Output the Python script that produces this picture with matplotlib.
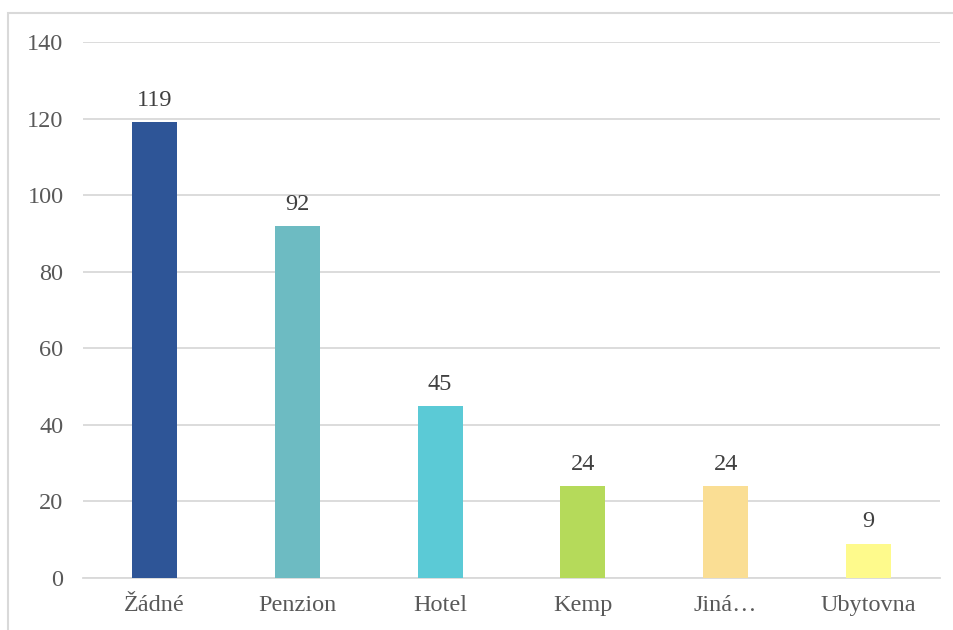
import matplotlib.pyplot as plt
from matplotlib.patches import Rectangle

categories = ['Žádné', 'Penzion', 'Hotel', 'Kemp', 'Jiná…', 'Ubytovna']
values = [119, 92, 45, 24, 24, 9]
colors = ['#2E5597', '#6DBBC2', '#5BCAD6', '#B5DA5A', '#FADE94', '#FEFA8C']
yticks = [0, 20, 40, 60, 80, 100, 120, 140]

plt.rcParams['font.family'] = ['Liberation Serif', 'DejaVu Serif']

fig = plt.figure(figsize=(9.54, 6.3), dpi=100)
ax = fig.add_axes([83 / 954, 1 - 578 / 630, (940 - 83) / 954, (578 - 42) / 630])

x = range(len(categories))
bars = ax.bar(x, values, width=0.315, color=colors, zorder=3)
ax.bar_label(bars, padding=8, fontsize=17.5, color='#404040')

ax.set_xlim(-0.5, len(categories) - 0.5)
ax.set_ylim(0, 140)
ax.set_yticks(yticks)
ax.set_xticks(list(x))
ax.set_xticklabels(categories)
ax.tick_params(axis='both', length=0, labelsize=17.5, labelcolor='#595959')
ax.tick_params(axis='y', pad=14)
ax.tick_params(axis='x', pad=12)

ax.grid(axis='y', color='#d9d9d9', linewidth=1.3, zorder=0)
for s in ['top', 'right', 'left']:
    ax.spines[s].set_visible(False)
ax.spines['bottom'].set_color('#d9d9d9')
ax.spines['bottom'].set_linewidth(1.3)

# outer chart frame (partly cut off at right and bottom)
frame = Rectangle((8 / 954, -0.1), 1.2, 1 - 13 / 630 + 0.1, transform=fig.transFigure,
                  fill=False, edgecolor='#d9d9d9', linewidth=1.5, clip_on=False)
fig.patches.append(frame)

fig.savefig('out.png', dpi=100)
